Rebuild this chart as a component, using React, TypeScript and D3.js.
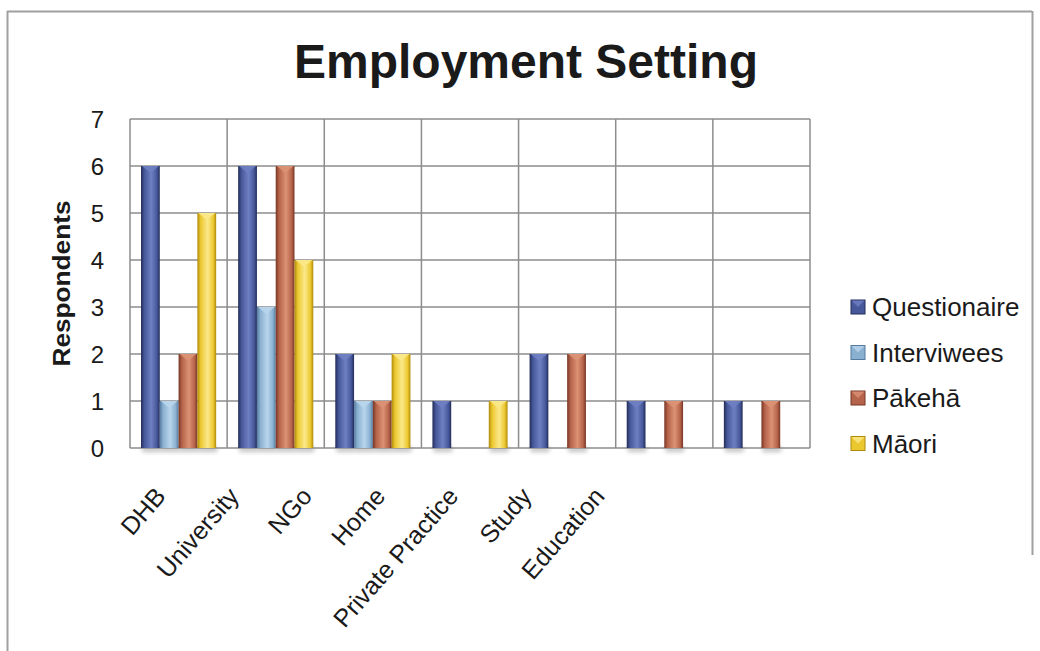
import React from "react";
import * as d3 from "d3";

const categories = ["DHB", "University", "NGo", "Home", "Private Practice", "Study", "Education"];
const seriesNames = ["Questionaire", "Interviwees", "Pākehā", "Māori"];
const questionaire = [6, 6, 2, 1, 2, 1, 1];
const interviwees = [1, 3, 1, 0, 0, 0, 0];
const pakeha = [2, 6, 1, 0, 2, 1, 1];
const maori = [5, 4, 2, 1, 0, 0, 0];
const yTicks = [0, 1, 2, 3, 4, 5, 6, 7];

const seriesValues = [questionaire, interviwees, pakeha, maori];
const palette = [
  { dark: "#222c58", base: "#46589a", light: "#6e80c2" },
  { dark: "#557aa0", base: "#8ab0d0", light: "#b8d5ec" },
  { dark: "#763624", base: "#b5634a", light: "#dc9274" },
  { dark: "#b08a0a", base: "#ecc830", light: "#fbe98a" },
];

const W = 1040;
const H = 651;
const plot = { left: 130, right: 810, top: 119, bottom: 448 };

export default function App() {
  const x0 = d3.scaleBand<string>().domain(categories).range([plot.left, plot.right]).padding(0);
  const x1 = d3.scaleBand<string>().domain(seriesNames).range([11, x0.bandwidth() - 11]).padding(0);
  const y = d3.scaleLinear().domain([0, 7]).range([plot.bottom, plot.top]);
  const labelX = d3.scalePoint<string>().domain(categories).range([167, 606]);

  const bw = x1.bandwidth();
  const font = "Arial, 'Liberation Sans', Helvetica, sans-serif";

  return (
    <svg width={W} height={H} style={{ position: "absolute", left: 0, top: 0, display: "block" }}>
      <defs>
        {palette.map((p, i) => (
          <linearGradient key={i} id={`g${i}`} x1="0" x2="1" y1="0" y2="0">
            <stop offset="0" stopColor={p.dark} />
            <stop offset="0.18" stopColor={p.base} />
            <stop offset="0.55" stopColor={p.light} />
            <stop offset="0.85" stopColor={p.base} />
            <stop offset="1" stopColor={p.dark} />
          </linearGradient>
        ))}
        <filter id="shadow" x="-30%" y="-100%" width="160%" height="300%">
          <feGaussianBlur stdDeviation="2" />
        </filter>
      </defs>
      <rect x={0} y={0} width={W} height={H} fill="#fff" />
      {/* outer border */}
      <line x1={7.5} y1={11} x2={7.5} y2={H} stroke="#a0a0a0" strokeWidth={2} />
      <line x1={7} y1={11.5} x2={1032} y2={11.5} stroke="#a0a0a0" strokeWidth={2} />
      <line x1={1032.5} y1={11} x2={1032.5} y2={555} stroke="#a0a0a0" strokeWidth={2} />

      <text x={526} y={78} textAnchor="middle" fontFamily={font} fontWeight="bold" fontSize={48} fill="#1a1a1a">
        Employment Setting
      </text>

      {/* bar shadows */}
      {categories.map((c, ci) =>
        seriesNames.map((s, si) => {
          const v = seriesValues[si][ci];
          if (!v) return null;
          const bx = x0(c)! + x1(s)!;
          return (
            <rect key={`sh-${c}-${s}`} x={bx + 1} y={plot.bottom - 1} width={bw} height={5} fill="#888" opacity={0.5} filter="url(#shadow)" />
          );
        })
      )}

      {/* gridlines */}
      {yTicks.map((t) => (
        <line key={t} x1={plot.left} x2={plot.right} y1={y(t)} y2={y(t)} stroke="#8c8c8c" strokeWidth={1.5} />
      ))}
      {categories.map((c) => (
        <line key={c} x1={x0(c)!} x2={x0(c)!} y1={plot.top} y2={plot.bottom} stroke="#8c8c8c" strokeWidth={1.5} />
      ))}
      <line x1={plot.right} x2={plot.right} y1={plot.top} y2={plot.bottom} stroke="#8c8c8c" strokeWidth={1.5} />

      {/* bars */}
      {categories.map((c, ci) =>
        seriesNames.map((s, si) => {
          const v = seriesValues[si][ci];
          if (!v) return null;
          const bx = x0(c)! + x1(s)!;
          const by = y(v);
          const bh = plot.bottom - by;
          return (
            <g key={`${c}-${s}`}>
              <rect x={bx} y={by} width={bw} height={bh} fill={`url(#g${si})`} />
              <path
                d={`M${bx + 1},${by} L${bx + bw - 1},${by} L${bx + bw / 2},${by + 7} Z`}
                fill={palette[si].light}
                opacity={0.9}
              />
            </g>
          );
        })
      )}

      {/* y tick labels */}
      {yTicks.map((t) => (
        <text key={t} x={104} y={y(t)} dy="0.36em" textAnchor="end" fontFamily={font} fontSize={24} fill="#1a1a1a">
          {t}
        </text>
      ))}

      <text
        transform={`translate(70,${(plot.top + plot.bottom) / 2}) rotate(-90)`}
        textAnchor="middle"
        fontFamily={font}
        fontWeight="bold"
        fontSize={23}
        textLength={166}
        lengthAdjust="spacingAndGlyphs"
        fill="#1a1a1a"
      >
        Respondents
      </text>

      {/* x labels */}
      {categories.map((c) => (
        <text
          key={c}
          transform={`translate(${labelX(c)},${497}) rotate(-49)`}
          textAnchor="end"
          fontFamily={font}
          fontSize={25}
          fill="#1a1a1a"
        >
          {c}
        </text>
      ))}

      {/* legend */}
      {seriesNames.map((s, i) => {
        const cy = 307 + i * 45.5;
        return (
          <g key={s}>
            <rect x={851} y={cy - 7} width={14} height={14} fill={palette[i].base} stroke={palette[i].dark} strokeWidth={1} />
            <path d={`M${851.5},${cy - 6.5} L${864.5},${cy - 6.5} L${858},${cy} Z`} fill={palette[i].light} opacity={0.8} />
            <text x={872} y={cy} dy="0.36em" fontFamily={font} fontSize={26} fill="#1a1a1a">
              {s}
            </text>
          </g>
        );
      })}
    </svg>
  );
}
